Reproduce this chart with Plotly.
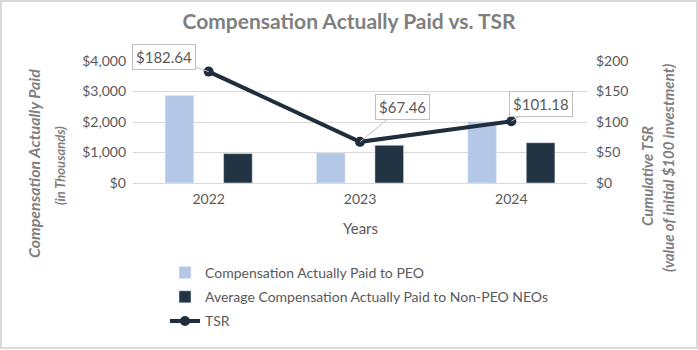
import plotly.graph_objects as go

years = ["2022", "2023", "2024"]
cap_peo = [2870, 985, 2010]
cap_non_peo = [965, 1235, 1320]
tsr = [182.64, 67.46, 101.18]
tsr_labels = ["$182.64", "$67.46", "$101.18"]
y1_ticks = [0, 1000, 2000, 3000, 4000]
y1_text = ["$0", "$1,000", "$2,000", "$3,000", "$4,000"]
y2_ticks = [0, 50, 100, 150, 200]
y2_text = ["$0", "$50", "$100", "$150", "$200"]

W, H = 698, 350
L, R, T, B = 133, 111, 61, 167
pw, ph = W - L - R, H - T - B

def px(x):
    return (x - L) / pw

def py(y):
    return (H - B - y) / ph

FONT = "Lato"
GRAY = "#595959"
TITLE_GRAY = "#7f7f7f"
LIGHT = "#b4c7e7"
DARK = "#223344"
LINE = "#1f2d3d"

fig = go.Figure()
fig.add_trace(go.Bar(x=years, y=cap_peo, name="Compensation Actually Paid to PEO",
                     marker_color=LIGHT, legendgroup="a"))
fig.add_trace(go.Bar(x=years, y=cap_non_peo, name="Average Compensation Actually Paid to Non-PEO NEOs",
                     marker_color=DARK, legendgroup="b"))
fig.add_trace(go.Scatter(x=years, y=tsr, name="TSR", yaxis="y2", mode="lines+markers",
                         line=dict(color=LINE, width=4), marker=dict(size=10, color=LINE),
                         legendgroup="c"))

offsets = [(-44.5, -14.5), (42.5, -35), (29.5, -17.5)]
annotations = []
for i, (v, lab, (ax, ay)) in enumerate(zip(tsr, tsr_labels, offsets)):
    annotations.append(dict(x=i, y=v, xref="x", yref="y2", text=lab, showarrow=True, ax=ax, ay=ay,
                            arrowhead=0, arrowwidth=1, arrowcolor="#bfbfbf",
                            bgcolor="white", bordercolor="#bfbfbf", borderwidth=1, borderpad=3,
                            font=dict(family=FONT, size=15, color=GRAY)))

annotations += [
    dict(xref="paper", yref="paper", x=px(33), y=py(164), text="<b><i>Compensation Actually Paid</i></b>",
         textangle=-90, showarrow=False, font=dict(family=FONT, size=16, color=TITLE_GRAY),
         xanchor="center", yanchor="middle"),
    dict(xref="paper", yref="paper", x=px(60), y=py(166), text="<b><i>(in Thousands)</i></b>",
         textangle=-90, showarrow=False, font=dict(family=FONT, size=13, color=TITLE_GRAY),
         xanchor="center", yanchor="middle"),
    dict(xref="paper", yref="paper", x=px(647), y=py(176), text="<b><i>Cumulative TSR</i></b>",
         textangle=-90, showarrow=False, font=dict(family=FONT, size=15, color=TITLE_GRAY),
         xanchor="center", yanchor="middle"),
    dict(xref="paper", yref="paper", x=px(668), y=py(168), text="<b><i>(value of initial $100 investment)</i></b>",
         textangle=-90, showarrow=False, font=dict(family=FONT, size=15, color=TITLE_GRAY),
         xanchor="center", yanchor="middle"),
    dict(xref="paper", yref="paper", x=px(360), y=py(228), text="Years",
         showarrow=False, font=dict(family=FONT, size=15, color=GRAY),
         xanchor="center", yanchor="middle"),
]

fig.update_layout(
    width=W, height=H,
    margin=dict(l=L, r=R, t=T, b=B),
    paper_bgcolor="white", plot_bgcolor="white",
    title=dict(text="<b>Compensation Actually Paid vs. TSR</b>", x=349 / W, xref="container",
               xanchor="center", y=1 - 22 / H, yanchor="middle",
               font=dict(family=FONT, size=21, color=TITLE_GRAY)),
    barmode="group", bargap=0.227, bargroupgap=0.51,
    xaxis=dict(type="category", range=[-0.5, 2.5], autorange=False,
               tickfont=dict(family=FONT, size=14, color=GRAY), showgrid=False,
               showline=False, ticks="", ticklabelstandoff=6),
    yaxis=dict(range=[0, 4000], autorange=False, tickvals=y1_ticks, ticktext=y1_text,
               showgrid=True, gridcolor="#d9d9d9", gridwidth=1,
               zeroline=True, zerolinecolor="#d9d9d9", zerolinewidth=1,
               tickfont=dict(family=FONT, size=14, color=GRAY), ticklabelstandoff=6),
    yaxis2=dict(range=[0, 200], autorange=False, tickvals=y2_ticks, ticktext=y2_text,
                overlaying="y", side="right", showgrid=False, zeroline=False,
                tickfont=dict(family=FONT, size=14, color=GRAY), ticklabelstandoff=8),
    legend=dict(x=px(165), y=py(257), xanchor="left", yanchor="top", orientation="v",
                font=dict(family=FONT, size=14, color=GRAY), tracegroupgap=3,
                bgcolor="rgba(0,0,0,0)"),
    annotations=annotations,
    shapes=[dict(type="rect", xref="paper", yref="paper", x0=px(1), x1=px(697), y0=py(1), y1=py(348),
                 line=dict(color="#d9d9d9", width=2), fillcolor="rgba(0,0,0,0)", layer="below")],
    showlegend=True,
)

fig.write_html("out.html")
